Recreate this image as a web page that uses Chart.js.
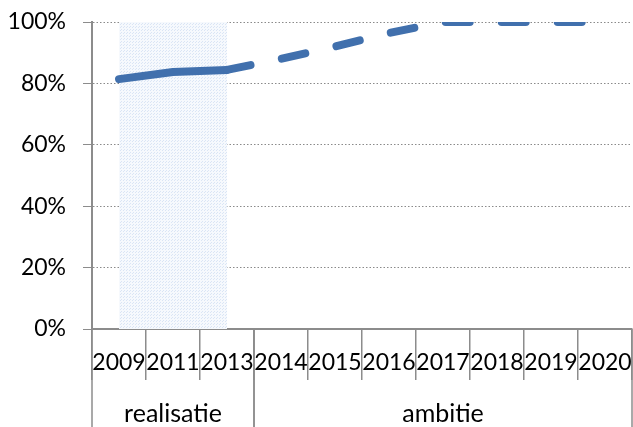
<!DOCTYPE html>
<html>
<head>
<meta charset="utf-8">
<script src="https://cdn.jsdelivr.net/npm/chart.js@4/dist/chart.umd.min.js"></script>
<style>
  html, body { margin: 0; padding: 0; background: #fff; }
  #wrap { width: 633px; height: 427px; }
</style>
</head>
<body>
<div id="wrap"><canvas id="chart" width="633" height="427"></canvas></div>
<script>
// Years on the x axis
const years = ["2009", "2011", "2013", "2014", "2015", "2016", "2017", "2018", "2019", "2020"];
// Share in % (realised up to 2013, ambition after)
const shares = [81.4, 83.7, 84.4, 88, 92, 96.4, 100, 100, 100, 100];
// Groups under the years (first and last year index)
const groupLabels = ["realisatie", "ambitie"];
const groupFrom = [0, 3];
const groupTo = [2, 9];
// Last index of the realised (solid) part
const lastRealised = 2;

const FONT = "Lato, 'Open Sans', sans-serif";
const AXIS_GREY = "#8c8c8c";

// light dotted fill for the realised period
const makePattern = (ctx) => {
  const c = document.createElement("canvas");
  c.width = 3; c.height = 3;
  const p = c.getContext("2d");
  p.fillStyle = "#f6f9fd";
  p.fillRect(0, 0, 3, 3);
  p.fillStyle = "#dae5f5";
  p.fillRect(0, 0, 1, 1);
  p.fillRect(1, 2, 1, 1);
  return ctx.createPattern(c, "repeat");
};

const shadePlugin = {
  id: "shade",
  beforeDatasetsDraw(chart) {
    const { ctx, chartArea, scales } = chart;
    const x0 = scales.x.getPixelForValue(0);
    const x1 = scales.x.getPixelForValue(lastRealised);
    ctx.save();
    ctx.fillStyle = makePattern(ctx);
    ctx.fillRect(x0, chartArea.top, x1 - x0, chartArea.bottom - chartArea.top);
    ctx.restore();
  },
};

// group labels + long separators under the year row
const groupPlugin = {
  id: "groups",
  afterDraw(chart) {
    const { ctx, chartArea, scales } = chart;
    const x = scales.x;
    const half = (x.getPixelForValue(1) - x.getPixelForValue(0)) / 2;
    ctx.save();
    ctx.strokeStyle = AXIS_GREY;
    ctx.lineWidth = 1.5;
    ctx.fillStyle = "#000";
    ctx.font = "25px " + FONT;
    ctx.textAlign = "center";
    ctx.textBaseline = "alphabetic";
    groupLabels.forEach((lbl, i) => {
      const left = x.getPixelForValue(groupFrom[i]) - half;
      const right = x.getPixelForValue(groupTo[i]) + half;
      [left, right].forEach((px) => {
        ctx.beginPath();
        ctx.moveTo(px, chartArea.bottom);
        ctx.lineTo(px, chart.height);
        ctx.stroke();
      });
      ctx.fillText(lbl, (left + right) / 2, chartArea.bottom + 93);
    });
    ctx.restore();
  },
};

new Chart(document.getElementById("chart").getContext("2d"), {
  type: "line",
  data: {
    labels: years,
    datasets: [
      {
        data: shares,
        borderColor: "#4170ad",
        borderWidth: 8,
        borderCapStyle: "round",
        borderJoinStyle: "round",
        pointRadius: 0,
        tension: 0,
        fill: false,
        segment: {
          borderDash: (c) => (c.p0DataIndex >= lastRealised ? [24, 32] : undefined),
        },
      },
    ],
  },
  options: {
    responsive: false,
    animation: false,
    layout: { autoPadding: false, padding: { top: 22, right: 1, left: 0, bottom: 0 } },
    plugins: { legend: { display: false }, tooltip: { enabled: false } },
    scales: {
      x: {
        type: "category",
        offset: true,
        afterFit: (s) => { s.height = 98; s.paddingLeft = 0; s.paddingRight = 0; },
        grid: {
          offset: true,
          drawOnChartArea: false,
          drawTicks: true,
          tickLength: 51,
          color: AXIS_GREY,
          lineWidth: 1.5,
        },
        border: { display: true, color: AXIS_GREY, width: 2 },
        ticks: {
          color: "#000",
          font: { family: FONT, size: 23 },
          padding: -31,
          maxRotation: 0,
          autoSkip: false,
        },
      },
      y: {
        min: 0,
        max: 100,
        afterFit: (s) => { s.width = 92; s.paddingTop = 0; s.paddingBottom = 0; },
        ticks: {
          stepSize: 20,
          color: "#000",
          font: { family: FONT, size: 23 },
          padding: 17,
          callback: (v) => v + "%",
        },
        grid: {
          color: "#8a8a8a",
          lineWidth: 1,
          tickLength: 9,
          tickColor: AXIS_GREY,
        },
        border: { display: true, color: AXIS_GREY, width: 2, dash: [1.5, 2] },
      },
    },
  },
  plugins: [shadePlugin, groupPlugin],
});
</script>
</body>
</html>
